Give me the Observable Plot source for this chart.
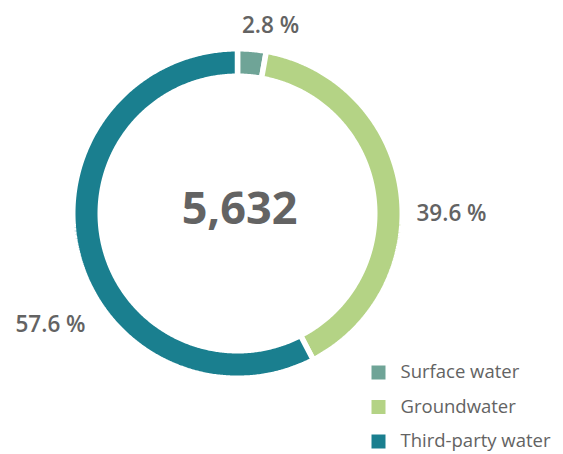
<!DOCTYPE html>
<html>
<head>
<meta charset="utf-8">
<script src="https://cdn.jsdelivr.net/npm/d3@7"></script>
<script src="https://cdn.jsdelivr.net/npm/@observablehq/plot@0.6"></script>
<style>
  html, body { margin: 0; padding: 0; background: #fff; }
  #chart { width: 563px; height: 454px; }
</style>
</head>
<body>
<div id="chart"></div>
<script>
// ---- data ----
const categories = ["Surface water", "Groundwater", "Third-party water"];
const shares = [2.8, 39.6, 57.6];            // percent
const colors = ["#6fa497", "#b4d385", "#1a7f8f"];
const totalLabel = "5,632";
const shareLabels = shares.map(v => v.toFixed(1) + " %");

// ---- layout ----
const W = 563, H = 454;
const cx = 237, cy = 213, R = 162, r0 = 140, gap = 5.5;
const labelPos = [[270, 25], [451, 213], [50, 324]];
const legendX = 378, legendTextX = 400, legendY0 = 372, legendStep = 34.5;
const textColor = "#636363";
const font = "'Open Sans', 'Noto Sans', sans-serif";

// ---- geometry for ring slices (from shares) ----
const ringPts = [];
let cum = 0;
shares.forEach((v, i) => {
  const a0 = cum / 100 * 2 * Math.PI;
  cum += v;
  const a1 = cum / 100 * 2 * Math.PI;
  const n = Math.max(4, Math.ceil((a1 - a0) / (Math.PI / 360)));
  const pts = [];
  const Ro = R + gap / 2, Ri = r0 - gap / 2;
  for (let k = 0; k <= n; k++) {
    const a = a0 + (a1 - a0) * k / n;
    pts.push({key: categories[i], x: cx + Ro * Math.sin(a), y: cy - Ro * Math.cos(a)});
  }
  for (let k = n; k >= 0; k--) {
    const a = a0 + (a1 - a0) * k / n;
    pts.push({key: categories[i], x: cx + Ri * Math.sin(a), y: cy - Ri * Math.cos(a)});
  }
  pts.push({...pts[0]});
  ringPts.push(...pts);
});

const labels = categories.map((c, i) => ({key: c, text: shareLabels[i], x: labelPos[i][0], y: labelPos[i][1]}));
const legend = categories.map((c, i) => ({key: c, y: legendY0 + i * legendStep}));

const plot = Plot.plot({
  width: W, height: H,
  margin: 0,
  style: {fontFamily: font, background: "#fff"},
  x: {domain: [0, W], range: [0, W], axis: null},
  y: {domain: [0, H], range: [0, H], axis: null},
  color: {domain: categories, range: colors},
  marks: [
    Plot.line(ringPts, {x: "x", y: "y", z: "key", fill: "key", stroke: "white", strokeWidth: gap, strokeLinejoin: "miter"}),
    Plot.text([totalLabel], {x: [cx + 2], y: [cy - 4], text: d => d, fontSize: 45, fontWeight: 700, fill: textColor}),
    Plot.text(labels, {x: "x", y: "y", text: "text", fontSize: 22.5, fontWeight: 600, fill: textColor}),
    Plot.dot(legend, {x: () => legendX, y: "y", fill: "key", symbol: "square", r: 7.9, stroke: null}),
    Plot.text(legend, {x: () => legendTextX, y: "y", text: "key", textAnchor: "start", fontSize: 18.5, fill: textColor})
  ]
});
document.getElementById("chart").appendChild(plot);
</script>
</body>
</html>
